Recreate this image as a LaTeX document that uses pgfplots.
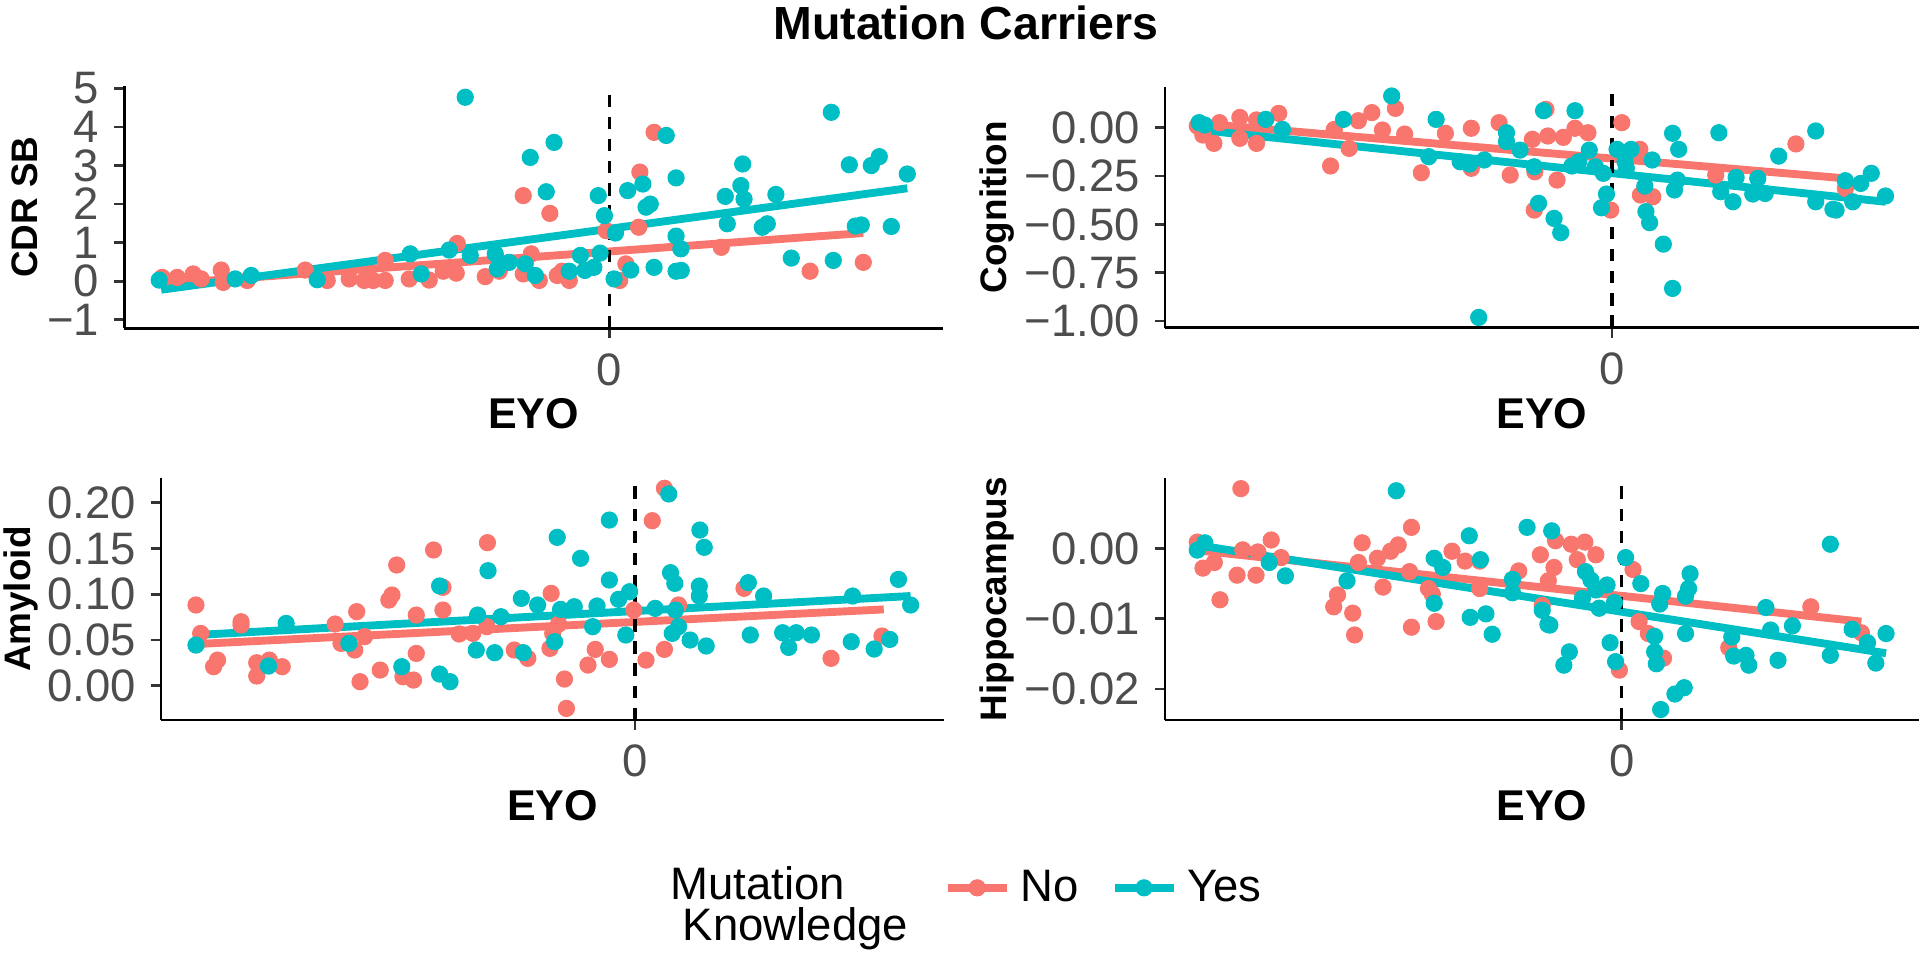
\documentclass[border=0pt]{standalone}
\usepackage{fontspec}
\setmainfont{Liberation Sans}
\usepackage{pgfplots}
\pgfplotsset{compat=1.18}
\definecolor{ggred}{HTML}{F8766D}
\definecolor{ggteal}{HTML}{00BFC4}
\definecolor{labc}{HTML}{4D4D4D}
\definecolor{tickc}{HTML}{333333}
\pgfplotsset{
  panel/.style={
    scale only axis, anchor=south west,
    axis x line=bottom, axis y line=left,
    axis line style={-, line width=1.1pt, black},
    tick align=outside, major tick length=4pt,
    every tick/.style={line width=1.1pt, color=tickc},
    tick label style={font=\fontsize{18.5}{18.5}\selectfont, text=labc, inner sep=0.5pt},
    yticklabel style={xshift=-5.5pt},
    xticklabel style={yshift=-5.5pt},
    scaled ticks=false,
    xtick={0}, xticklabels={0},
    enlargelimits=false,
  },
  redpts/.style={only marks, mark=*, mark size=3.3pt, color=ggred, mark options={draw=none, fill=ggred}},
  tealpts/.style={only marks, mark=*, mark size=3.3pt, color=ggteal, mark options={draw=none, fill=ggteal}},
  redline/.style={no marks, color=ggred, line width=3.2pt},
  tealline/.style={no marks, color=ggteal, line width=3.2pt},
  vline/.style={no marks, black, line width=1.3pt, dash pattern=on 5pt off 4pt},
}
\begin{document}
\begin{tikzpicture}
\useasboundingbox (0,0) rectangle (784pt,-390.5pt);
% Title
\node[font=\fontsize{18.9}{18.9}\selectfont\bfseries] at (392.75pt,-9.5pt) {Mutation Carriers};

% ---------------- TL: CDR SB ----------------
\begin{axis}[panel, at={(50.5pt,-133.5pt)}, width=333pt, height=98.5pt,
  xmin=-24.25, xmax=16.69, ymin=-1.22, ymax=5.06,
  ytick={-1,0,1,2,3,4,5}, yticklabels={−1,0,1,2,3,4,5}]
\addplot[redpts] coordinates {(-22.35,0.10) (-21.6,0.10) (-20.8,0.19) (-20.4,0.06) (-19.4,0.29) (-19.3,-0.03) (-18.1,0.02) (-15.2,0.29) (-14.1,0.02) (-13.0,0.06) (-12.25,0.02) (-11.8,0.02) (-11.2,0.54) (-11.2,0.02) (-10.0,0.06) (-9.0,0.03) (-8.3,0.26) (-7.6,0.98) (-7.65,0.21) (-6.2,0.12) (-5.5,0.26) (-4.3,2.22) (-4.3,0.19) (-3.9,0.71) (-3.5,0.02) (-2.97,1.76) (-2.6,0.15) (-2.36,0.26) (-2.0,0.02) (-0.15,1.31) (0.52,0.02) (0.83,0.45) (1.47,1.40) (1.53,2.83) (2.24,3.86) (5.6,0.88) (10.04,0.26) (12.7,0.49)};
\addplot[tealpts] coordinates {(-22.5,0.03) (-18.7,0.06) (-17.9,0.15) (-14.6,0.04) (-9.95,0.71) (-9.4,0.19) (-8.0,0.81) (-7.2,4.77) (-6.95,0.67) (-5.7,0.71) (-5.6,0.32) (-5.0,0.49) (-4.2,0.45) (-3.95,3.21) (-3.7,0.15) (-3.15,2.32) (-2.76,3.6) (-2.0,0.26) (-1.22,0.28) (-1.44,0.67) (-0.77,0.36) (-0.55,2.22) (-0.46,0.73) (-0.24,1.70) (0.24,0.06) (0.31,1.25) (0.92,2.35) (1.07,0.29) (1.68,2.52) (1.84,1.92) (2.05,2.0) (2.24,0.36) (2.85,3.78) (3.34,2.68) (3.34,1.17) (3.34,0.26) (3.58,0.84) (3.6,0.28) (5.8,2.2) (5.9,1.49) (6.58,2.48) (6.67,3.04) (6.74,2.13) (7.65,1.40) (7.9,1.49) (8.33,2.25) (9.1,0.60) (11.1,4.38) (11.2,0.54) (12.0,3.02) (12.3,1.43) (12.6,1.46) (13.1,3.0) (13.5,3.23) (14.1,1.42) (14.9,2.78)};
\addplot[redline] coordinates {(-22.35,-0.07) (12.7,1.25)};
\addplot[tealline] coordinates {(-22.4,-0.22) (14.9,2.41)};
\addplot[vline] coordinates {(0,-1.22) (0,5.06)};
\end{axis}

% ---------------- TR: Cognition ----------------
\begin{axis}[panel, at={(473.75pt,-133.25pt)}, width=306.75pt, height=98pt,
  xmin=-24.14, xmax=16.6, ymin=-1.034, ymax=0.212,
  ytick={-1,-0.75,-0.5,-0.25,0}, yticklabels={−1.00,−0.75,−0.50,−0.25,0.00}]
\addplot[redpts] coordinates {(-22.4,0.009) (-22.1,-0.038) (-21.5,-0.081) (-21.2,0.026) (-20.1,0.053) (-20.1,-0.055) (-19.2,0.040) (-19.2,-0.081) (-18.0,0.074) (-15.2,-0.198) (-15.0,-0.009) (-14.2,-0.107) (-13.7,0.036) (-12.97,0.078) (-12.4,-0.012) (-11.7,0.1) (-11.2,-0.033) (-10.3,-0.233) (-9.0,-0.029) (-7.6,-0.003) (-7.6,-0.210) (-6.1,0.026) (-5.5,-0.245) (-4.3,-0.060) (-4.2,-0.426) (-4.17,-0.228) (-3.57,0.095) (-3.47,-0.043) (-2.97,-0.271) (-2.63,-0.050) (-2.0,-0.003) (-1.3,-0.026) (-0.07,-0.426) (0.53,0.026) (1.5,-0.112) (1.53,-0.348) (2.2,-0.357) (5.6,-0.245) (9.93,-0.084) (12.6,-0.314)};
\addplot[tealpts] coordinates {(-22.3,0.026) (-22.0,0.014) (-18.7,0.043) (-17.8,-0.009) (-14.5,0.043) (-11.9,0.164) (-9.9,-0.150) (-9.5,0.043) (-8.2,-0.176) (-7.7,-0.188) (-6.9,-0.167) (-7.2,-0.981) (-5.7,-0.026) (-5.7,-0.072) (-4.97,-0.116) (-4.2,-0.202) (-3.97,-0.391) (-3.7,0.088) (-3.13,-0.469) (-2.77,-0.543) (-2.0,0.088) (-2.17,-0.198) (-1.8,-0.176) (-1.23,-0.116) (-0.9,-0.202) (-0.57,-0.414) (-0.3,-0.343) (-0.47,-0.236) (0.27,-0.112) (1.03,-0.112) (0.77,-0.210) (0.7,-0.176) (1.77,-0.302) (1.83,-0.434) (2.03,-0.491) (2.17,-0.167) (2.77,-0.602) (3.27,-0.029) (3.6,-0.112) (3.37,-0.322) (3.53,-0.271) (3.27,-0.831) (5.77,-0.026) (5.87,-0.331) (6.53,-0.383) (6.7,-0.257) (7.6,-0.343) (7.87,-0.262) (8.27,-0.340) (9.0,-0.147) (11.0,-0.017) (11.0,-0.383) (11.93,-0.422) (12.1,-0.426) (12.6,-0.274) (13.0,-0.383) (13.43,-0.288) (14.0,-0.236) (14.77,-0.353)};
\addplot[redline] coordinates {(-22.3,0.022) (12.6,-0.262)};
\addplot[tealline] coordinates {(-22.23,-0.012) (14.77,-0.383)};
\addplot[vline] coordinates {(0,-1.034) (0,0.212)};
\end{axis}

% ---------------- BL: Amyloid ----------------
\begin{axis}[panel, at={(65.5pt,-292.8pt)}, width=318.5pt, height=98.3pt,
  xmin=-24.18, xmax=15.78, ymin=-0.0375, ymax=0.2266,
  ytick={0,0.05,0.1,0.15,0.2}, yticklabels={0.00,0.05,0.10,0.15,0.20}]
\addplot[redpts] coordinates {(-22.4,0.0882) (-22.16,0.0572) (-21.5,0.0208) (-21.3,0.028) (-20.1,0.0699) (-20.1,0.0663) (-19.3,0.0251) (-19.3,0.0106) (-18.66,0.028) (-18.0,0.0208) (-15.3,0.0674) (-15.0,0.0463) (-14.3,0.039) (-14.2,0.0809) (-14.03,0.0044) (-13.8,0.0536) (-13.0,0.0171) (-12.56,0.0936) (-12.4,0.0991) (-12.16,0.1319) (-11.84,0.0098) (-11.3,0.0062) (-11.16,0.0353) (-11.16,0.0772) (-10.28,0.1483) (-9.8,0.1075) (-9.8,0.0827) (-8.97,0.0565) (-8.28,0.0572) (-7.53,0.1563) (-7.56,0.0645) (-6.16,0.039) (-5.47,0.0299) (-4.34,0.0408) (-4.28,0.1009) (-4.2,0.0572) (-3.9,0.0674) (-3.6,0.0073) (-3.5,-0.0248) (-2.4,0.0226) (-2.03,0.0397) (-1.31,0.0288) (-0.06,0.0827) (0.56,0.028) (0.88,0.1803) (1.5,0.0397) (1.5,0.2157) (2.22,0.0882) (5.56,0.1064) (10.0,0.0299) (12.6,0.0543)};
\addplot[tealpts] coordinates {(-22.4,0.0444) (-18.7,0.0215) (-17.8,0.0681) (-14.6,0.0463) (-11.9,0.0208) (-9.97,0.109) (-9.97,0.0128) (-9.44,0.0044) (-8.1,0.039) (-8.03,0.0772) (-7.5,0.1257) (-7.16,0.0361) (-6.84,0.0754) (-5.8,0.0954) (-5.7,0.0361) (-4.97,0.0882) (-4.1,0.0481) (-3.97,0.1621) (-3.8,0.0834) (-3.1,0.0863) (-2.78,0.1392) (-2.16,0.0645) (-1.94,0.0871) (-1.31,0.1155) (-1.31,0.181) (-0.84,0.0944) (-0.47,0.0554) (-0.28,0.1027) (1.03,0.0845) (1.72,0.2095) (1.81,0.1235) (2.03,0.1118) (1.9,0.0572) (2.22,0.0645) (2.06,0.0827) (2.81,0.0499) (3.28,0.1089) (3.28,0.098) (3.31,0.1701) (3.53,0.1512) (3.63,0.0434) (5.78,0.1126) (5.88,0.0554) (6.56,0.098) (7.53,0.0579) (7.84,0.0419) (8.22,0.0579) (9.0,0.0554) (11.03,0.0481) (11.1,0.098) (12.2,0.0401) (13.0,0.0506) (13.44,0.1162) (14.06,0.0882)};
\addplot[redline] coordinates {(-22.4,0.0455) (12.69,0.0834)};
\addplot[tealline] coordinates {(-22.4,0.0554) (14.06,0.098)};
\addplot[vline] coordinates {(0,-0.0375) (0,0.2266)};
\end{axis}

% ---------------- BR: Hippocampus ----------------
\begin{axis}[panel, at={(473.75pt,-292.8pt)}, width=306.75pt, height=98.3pt,
  xmin=-24.1, xmax=15.7, ymin=-0.0244, ymax=0.00997,
  ytick={-0.02,-0.01,0}, yticklabels={−0.02,−0.01,0.00},
  legend columns=2,
  legend style={draw=none, fill=none, at={(axis description cs:-0.294,-0.694)}, anchor=west,
    font=\fontsize{18.5}{18.5}\selectfont, inner sep=0pt,
    /tikz/every even column/.append style={column sep=11pt},
    /tikz/every odd column/.append style={column sep=2pt}},
  legend image code/.code={\draw[line width=3.2pt] (0pt,0pt) -- (24pt,0pt); \fill (12pt,0pt) circle (3.3pt);}]
\addplot[redpts, forget plot] coordinates {(-22.4,0.0009) (-22.1,-0.0028) (-21.5,-0.0020) (-21.2,-0.0073) (-20.3,-0.0038) (-20.1,0.0085) (-20.0,-0.0002) (-19.3,-0.0038) (-19.2,-0.0005) (-18.5,0.0012) (-17.98,-0.0013) (-15.2,-0.0083) (-15.0,-0.0066) (-14.2,-0.0092) (-14.1,-0.0123) (-13.9,-0.0020) (-13.7,0.0008) (-12.9,-0.0014) (-12.6,-0.0055) (-12.2,-0.0004) (-11.8,0.0005) (-11.2,-0.0033) (-11.1,0.0030) (-11.1,-0.0112) (-10.2,-0.0057) (-10.0,-0.0065) (-9.8,-0.0104) (-8.96,-0.0004) (-8.27,-0.0018) (-7.5,-0.0018) (-7.5,-0.0057) (-5.44,-0.0032) (-4.3,-0.0009) (-4.2,-0.0081) (-3.88,-0.0046) (-3.58,-0.0027) (-3.5,0.0011) (-2.67,0.0006) (-2.35,-0.0016) (-1.95,0.0009) (-1.37,-0.0009) (-0.13,-0.0173) (0.59,-0.0030) (0.91,-0.0104) (1.4,-0.0121) (2.2,-0.0156) (5.64,-0.0141) (9.97,-0.0083) (12.64,-0.0120)};
\addplot[tealpts, forget plot] coordinates {(-22.4,-0.00024) (-22.0,0.0008) (-18.6,-0.0020) (-17.75,-0.0039) (-14.5,-0.0046) (-11.9,0.0082) (-9.9,-0.0014) (-9.45,-0.0027) (-9.9,-0.0078) (-8.05,0.0018) (-8.0,-0.0098) (-7.46,-0.0016) (-7.17,-0.0093) (-6.84,-0.0122) (-5.77,-0.0044) (-5.77,-0.0063) (-5.0,0.0030) (-4.2,-0.0088) (-3.9,-0.0108) (-3.8,-0.0109) (-3.7,0.0025) (-3.06,-0.0166) (-2.77,-0.0147) (-2.08,-0.0071) (-1.92,-0.0033) (-1.63,-0.0045) (-1.37,-0.0059) (-1.2,-0.0085) (-0.78,-0.0052) (-0.62,-0.0134) (-0.39,-0.0077) (-0.33,-0.0161) (0.2,-0.0013) (1.0,-0.0050) (1.73,-0.0125) (1.73,-0.0147) (1.82,-0.0164) (2.05,-0.0229) (2.0,-0.0079) (2.15,-0.0064) (2.8,-0.0207) (3.29,-0.0198) (3.36,-0.0121) (3.36,-0.0068) (3.52,-0.0057) (3.6,-0.0036) (5.8,-0.0126) (5.9,-0.0153) (6.55,-0.0152) (6.7,-0.0166) (7.6,-0.0084) (7.85,-0.0116) (8.24,-0.0159) (9.0,-0.0110) (11.0,0.0006) (11.0,-0.0152) (12.15,-0.0115) (12.96,-0.0134) (13.4,-0.0163) (13.94,-0.0121)};
\addplot[redline, forget plot] coordinates {(-22.3,-0.0003) (12.64,-0.0104)};
\addplot[tealline, forget plot] coordinates {(-22.4,0.00047) (13.94,-0.0149)};
\addplot[vline, forget plot] coordinates {(0,-0.0244) (0,0.00997)};
\addlegendimage{color=ggred}
\addlegendentry{No}
\addlegendimage{color=ggteal}
\addlegendentry{Yes}
\end{axis}

% axis titles
\node[rotate=90, font=\fontsize{15}{15}\selectfont\bfseries] at (10pt,-84.25pt) {CDR SB};
\node[rotate=90, font=\fontsize{15}{15}\selectfont\bfseries] at (405.5pt,-84.25pt) {Cognition};
\node[rotate=90, font=\fontsize{15}{15}\selectfont\bfseries] at (8.7pt,-243.65pt) {Amyloid};
\node[rotate=90, font=\fontsize{15}{15}\selectfont\bfseries] at (405.5pt,-243.65pt) {Hippocampus};
\node[font=\fontsize{17.5}{17.5}\selectfont\bfseries] at (217pt,-168.4pt) {EYO};
\node[font=\fontsize{17.5}{17.5}\selectfont\bfseries] at (627pt,-168.4pt) {EYO};
\node[font=\fontsize{17.5}{17.5}\selectfont\bfseries] at (224.75pt,-327.7pt) {EYO};
\node[font=\fontsize{17.5}{17.5}\selectfont\bfseries] at (627pt,-327.7pt) {EYO};
% legend title
\node[anchor=west, font=\fontsize{18.5}{18.5}\selectfont, inner sep=0pt] at (272.5pt,-359pt) {Mutation};
\node[anchor=west, font=\fontsize{18.5}{18.5}\selectfont, inner sep=0pt] at (277.5pt,-377.5pt) {Knowledge};
\end{tikzpicture}
\end{document}
